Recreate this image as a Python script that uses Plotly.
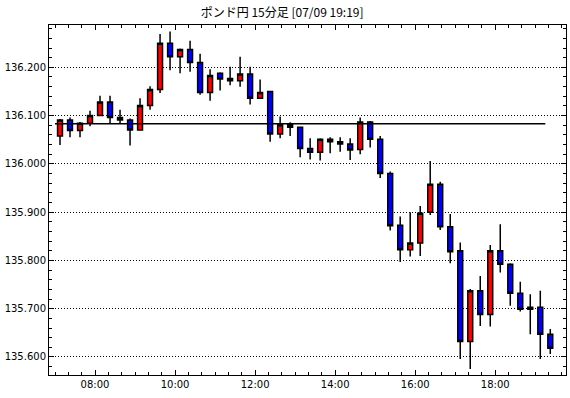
import pandas as pd
import plotly.graph_objects as go

# 15-minute bars from 07:00 to 19:15 (50 bars)
bar_start = "2024-07-09 07:00"
n_bars = 50

opens = [136.058, 136.091, 136.069, 136.084, 136.100, 136.128, 136.096, 136.091, 136.070, 136.121,
         136.154, 136.250, 136.222, 136.237, 136.210, 136.148, 136.188, 136.177, 136.172, 136.186,
         136.136, 136.150, 136.062, 136.081, 136.076, 136.032, 136.024, 136.051, 136.046, 136.041,
         136.030, 136.087, 136.051, 135.980, 135.873, 135.822, 135.836, 135.900, 135.958, 135.870,
         135.820, 135.632, 135.737, 135.688, 135.820, 135.792, 135.732, 135.699, 135.703, 135.647]
highs = [136.093, 136.096, 136.087, 136.110, 136.141, 136.141, 136.112, 136.094, 136.136, 136.161,
         136.269, 136.274, 136.239, 136.255, 136.228, 136.196, 136.190, 136.201, 136.222, 136.201,
         136.175, 136.150, 136.098, 136.086, 136.076, 136.053, 136.053, 136.055, 136.055, 136.053,
         136.096, 136.089, 136.058, 135.984, 135.891, 135.900, 135.913, 136.006, 135.963, 135.896,
         135.837, 135.741, 135.768, 135.832, 135.875, 135.794, 135.756, 135.730, 135.737, 135.658]
lows = [136.039, 136.055, 136.055, 136.078, 136.100, 136.083, 136.083, 136.038, 136.070, 136.112,
        136.147, 136.194, 136.188, 136.191, 136.143, 136.131, 136.152, 136.163, 136.160, 136.123,
        136.136, 136.046, 136.053, 136.058, 136.014, 136.009, 136.007, 136.022, 136.025, 136.008,
        136.020, 136.034, 135.971, 135.862, 135.797, 135.808, 135.809, 135.894, 135.863, 135.794,
        135.596, 135.575, 135.664, 135.663, 135.775, 135.706, 135.694, 135.647, 135.596, 135.606]
closes = [136.091, 136.069, 136.084, 136.100, 136.128, 136.096, 136.091, 136.070, 136.121, 136.154,
          136.250, 136.222, 136.237, 136.210, 136.148, 136.183, 136.176, 136.172, 136.186, 136.136,
          136.148, 136.062, 136.081, 136.076, 136.032, 136.024, 136.051, 136.046, 136.041, 136.029,
          136.087, 136.051, 135.980, 135.872, 135.822, 135.836, 135.898, 135.958, 135.870, 135.818,
          135.632, 135.737, 135.688, 135.820, 135.792, 135.732, 135.699, 135.703, 135.647, 135.618]

ref_level = 136.083
ref_times = ["2024-07-09 07:00", "2024-07-09 19:15"]

times = pd.date_range(bar_start, periods=n_bars, freq="15min") + pd.Timedelta(minutes=7.5)

fig = go.Figure()
fig.add_trace(go.Candlestick(
    x=times, open=opens, high=highs, low=lows, close=closes,
    increasing=dict(fillcolor="#FF0000", line=dict(color="black", width=1.5)),
    decreasing=dict(fillcolor="#0000FF", line=dict(color="black", width=1.5)),
    showlegend=False, hoverinfo="skip",
))
fig.add_trace(go.Scatter(
    x=ref_times, y=[ref_level, ref_level], mode="lines",
    line=dict(color="black", width=1.5), showlegend=False, hoverinfo="skip",
))

fig.update_layout(
    width=570, height=398,
    margin=dict(l=49, r=4, t=25, b=23),
    paper_bgcolor="white", plot_bgcolor="white",
    title=dict(text="ポンド円 15分足 [07/09 19:19]", x=0.495, xanchor="center",
               y=0.968, yanchor="middle",
               font=dict(family="Noto Sans CJK JP", size=12, color="black")),
    font=dict(family="DejaVu Sans", size=10, color="black"),
    boxgap=0.3,
)
fig.update_xaxes(
    type="date",
    range=["2024-07-09 06:51:00", "2024-07-09 19:46:03"],
    rangeslider=dict(visible=False),
    tick0="2024-07-09 08:00", dtick=2 * 3600 * 1000, tickformat="%H:%M",
    ticks="inside", ticklen=5, tickcolor="black",
    minor=dict(dtick=20 * 60 * 1000, ticks="inside", ticklen=3, tickcolor="black"),
    showgrid=False, showline=True, linecolor="black", linewidth=1, mirror="allticks",
    tickfont=dict(family="DejaVu Sans", size=10, color="black"),
)
fig.update_yaxes(
    range=[135.5627, 136.2877],
    tick0=135.6, dtick=0.1, tickformat=".3f",
    ticks="inside", ticklen=5, tickcolor="black",
    minor=dict(dtick=0.02, ticks="inside", ticklen=3, tickcolor="black", showgrid=False),
    showgrid=True, gridcolor="black", gridwidth=1, griddash="1px,2px",
    showline=True, linecolor="black", linewidth=1, mirror="allticks",
    zeroline=False,
    tickfont=dict(family="DejaVu Sans", size=10, color="black"),
)

fig.write_html("out.html")
